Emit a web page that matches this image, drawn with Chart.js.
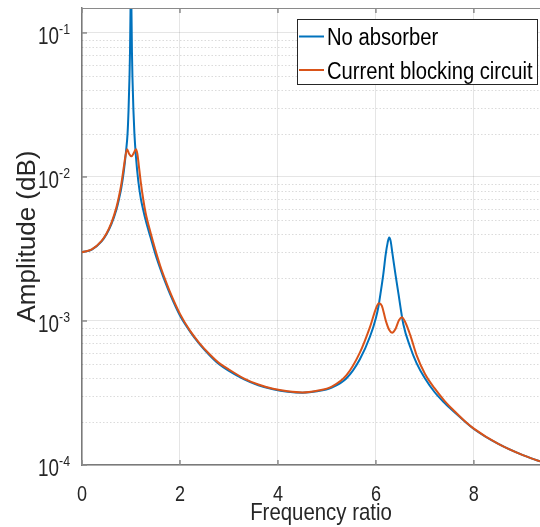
<!DOCTYPE html>
<html>
<head>
<meta charset="utf-8">
<style>
    body {
        margin: 0;
        background: #fff;
    }
</style>
</head>
<body>
<canvas id="chart" width="540" height="527"></canvas>

<script src="https://cdn.jsdelivr.net/npm/chart.js@4.4.0/dist/chart.umd.min.js"></script>
<script>
    // values
    const noAbsFreq = [0, 0.2, 0.4, 0.5, 0.6, 0.7, 0.75, 0.8, 0.85, 0.9, 0.93, 0.95, 0.97, 0.98, 0.99, 1.0,
        1.01, 1.02, 1.03, 1.05, 1.07, 1.1, 1.15, 1.2, 1.25, 1.3, 1.4, 1.5, 1.6, 1.7, 1.8, 2.0, 2.2, 2.4, 2.6,
        2.8, 3.0, 3.3, 3.6, 3.9, 4.2, 4.5, 4.8, 5.1, 5.4, 5.67, 5.88, 6.0, 6.05, 6.1, 6.15, 6.2, 6.24, 6.27,
        6.3, 6.34, 6.4, 6.46, 6.56, 6.7, 6.83, 7.0, 7.2, 7.4, 7.6, 7.8, 8.0, 8.5, 9.0, 9.35];
    const noAbsAmp = [0.0030, 0.00313, 0.00357, 0.0040, 0.0047, 0.0059, 0.0069, 0.0083, 0.0107, 0.0152, 0.020,
        0.029, 0.050, 0.074, 0.14, 0.5, 0.14, 0.073, 0.049, 0.029, 0.020, 0.014, 0.0093, 0.0071, 0.0059, 0.0050,
        0.0038, 0.0029, 0.0023, 0.00186, 0.00153, 0.00109, 0.00085, 0.00069, 0.00058, 0.00050, 0.00045, 0.000395,
        0.000358, 0.000336, 0.000323, 0.000318, 0.000325, 0.000345, 0.0004, 0.00054, 0.00078, 0.00105, 0.00125,
        0.0016, 0.0021, 0.0029, 0.0035, 0.0038, 0.0036, 0.0029, 0.0021, 0.00155, 0.00095, 0.00066, 0.00051,
        0.0004, 0.00032, 0.00027, 0.000233, 0.000203, 0.000178, 0.00014, 0.000117, 0.000106];

    const cbcFreq = [0, 0.2, 0.4, 0.5, 0.6, 0.7, 0.75, 0.8, 0.85, 0.88, 0.92, 0.96, 1.01, 1.06, 1.10, 1.13,
        1.16, 1.2, 1.25, 1.3, 1.4, 1.5, 1.6, 1.7, 1.8, 2.0, 2.2, 2.4, 2.6, 2.8, 3.0, 3.3, 3.6, 3.9, 4.2, 4.5,
        4.8, 5.1, 5.4, 5.67, 5.88, 6.0, 6.06, 6.12, 6.2, 6.27, 6.33, 6.4, 6.47, 6.53, 6.6, 6.7, 6.83, 7.0, 7.2,
        7.4, 7.6, 7.8, 8.0, 8.5, 9.0, 9.35];
    const cbcAmp = [0.0030, 0.00314, 0.0036, 0.00405, 0.0048, 0.0061, 0.0072, 0.0088, 0.0115, 0.0135, 0.0156,
        0.0145, 0.0139, 0.0147, 0.0156, 0.0145, 0.0120, 0.0092, 0.0070, 0.0056, 0.0041, 0.0031, 0.0024, 0.00193,
        0.00158, 0.00112, 0.00086, 0.0007, 0.00059, 0.00051, 0.00046, 0.0004, 0.000362, 0.000338, 0.000325,
        0.000319, 0.000328, 0.00035, 0.00042, 0.0006, 0.00091, 0.00122, 0.00133, 0.00128, 0.00101, 0.00087,
        0.00083, 0.00088, 0.00101, 0.00106, 0.00098, 0.0008, 0.00058, 0.00043, 0.00034, 0.000279, 0.000237,
        0.000204, 0.000179, 0.00014, 0.000117, 0.000106];

    const seriesLabels = ['No absorber', 'Current blocking circuit'];
    const seriesColors = ['#0072BD', '#D95319'];

    const xTicks = [0, 2, 4, 6, 8];
    const yDecades = [1e-4, 1e-3, 1e-2, 1e-1];
    const xMax = 9.35;
    const yMin = 1e-4;
    const yMax = 0.149;

    const FONT = '"Liberation Sans", Arial, sans-serif';
    const TEXT = '#262626';

    const toPoints = (xs, ys) => xs.map((x, i) => ({x: x, y: ys[i]}));

    // 2..9 inside every decade, for the dotted minor grid
    const minorValues = [];
    yDecades.forEach(d => {
        for (let k = 2; k <= 9; k++) {
            if (d * k <= yMax) minorValues.push(d * k);
        }
    });

    // the reference text is squeezed sideways, so draw it narrowed
    function narrowText(ctx, text, x, y, size, sx, align) {
        ctx.save();
        ctx.font = size + 'px ' + FONT;
        ctx.translate(x, y);
        ctx.scale(sx, 1);
        ctx.textAlign = align;
        ctx.textBaseline = 'alphabetic';
        ctx.fillText(text, 0, 0);
        ctx.restore();
    }

    function narrowWidth(ctx, text, size, sx) {
        ctx.save();
        ctx.font = size + 'px ' + FONT;
        const w = ctx.measureText(text).width * sx;
        ctx.restore();
        return w;
    }

    const matlabAxes = {
        id: 'matlabAxes',
        beforeDatasetsDraw(chart) {
            const {ctx, chartArea: a, scales: {y}} = chart;
            ctx.save();
            ctx.strokeStyle = 'rgba(0,0,0,0.14)';
            ctx.lineWidth = 1;
            ctx.setLineDash([1.5, 2]);
            minorValues.forEach(v => {
                const py = Math.round(y.getPixelForValue(v)) + 0.5;
                ctx.beginPath();
                ctx.moveTo(a.left, py);
                ctx.lineTo(a.right, py);
                ctx.stroke();
            });
            ctx.restore();
        },
        afterDatasetsDraw(chart) {
            const {ctx, chartArea: a, scales: {x, y}} = chart;
            ctx.save();

            // top border + small inward ticks
            ctx.strokeStyle = '#8a8a8a';
            ctx.lineWidth = 1;
            ctx.beginPath();
            ctx.moveTo(a.left, a.top + 0.5);
            ctx.lineTo(a.right, a.top + 0.5);
            ctx.stroke();
            ctx.lineWidth = 1.5;
            xTicks.forEach(t => {
                const px = x.getPixelForValue(t);
                ctx.beginPath();
                ctx.moveTo(px, a.bottom);
                ctx.lineTo(px, a.bottom - 5);
                ctx.moveTo(px, a.top);
                ctx.lineTo(px, a.top + 5);
                ctx.stroke();
            });
            yDecades.forEach(v => {
                const py = y.getPixelForValue(v);
                ctx.beginPath();
                ctx.moveTo(a.left, py);
                ctx.lineTo(a.left + 5, py);
                ctx.stroke();
            });

            ctx.fillStyle = TEXT;

            // x tick labels and title
            xTicks.forEach(t => {
                narrowText(ctx, String(t), x.getPixelForValue(t), 501, 22, 0.82, 'center');
            });
            narrowText(ctx, 'Frequency ratio', 321, 520, 24, 0.85, 'center');

            // y tick labels as 10 with a raised exponent
            yDecades.forEach(v => {
                const py = y.getPixelForValue(v);
                const exp = String(Math.round(Math.log10(v)));
                const right = 70;
                const we = narrowWidth(ctx, exp, 15, 0.82);
                narrowText(ctx, '10', right - we, py + 11, 23, 0.82, 'right');
                narrowText(ctx, exp, right - we, py + 1, 15, 0.82, 'left');
            });

            // legend box
            const box = {left: 297, top: 19, right: 538, bottom: 85};
            ctx.fillStyle = '#fff';
            ctx.fillRect(box.left, box.top, box.right - box.left, box.bottom - box.top);
            ctx.strokeStyle = '#262626';
            ctx.lineWidth = 1;
            ctx.strokeRect(box.left + 0.5, box.top + 0.5, box.right - box.left - 1, box.bottom - box.top - 1);
            const rows = [36.5, 70];
            chart.data.datasets.forEach((ds, i) => {
                ctx.strokeStyle = ds.borderColor;
                ctx.lineWidth = 2;
                ctx.beginPath();
                ctx.moveTo(299, rows[i]);
                ctx.lineTo(324, rows[i]);
                ctx.stroke();
                ctx.fillStyle = '#000';
                narrowText(ctx, ds.label, 327, rows[i] + 8.5, 23.5, 0.86, 'left');
            });
            ctx.restore();
        }
    };

    const ctx = document.getElementById('chart').getContext('2d');
    const chart = new Chart(ctx, {
        type: 'line',
        data: {
            datasets: [{
                label: seriesLabels[0],
                data: toPoints(noAbsFreq, noAbsAmp),
                borderColor: seriesColors[0],
                order: 2
            }, {
                label: seriesLabels[1],
                data: toPoints(cbcFreq, cbcAmp),
                borderColor: seriesColors[1],
                order: 1
            }]
        },
        options: {
            responsive: false,
            animation: false,
            devicePixelRatio: 1,
            layout: {padding: {top: 8, right: 0, left: 0, bottom: 0}},
            elements: {
                point: {radius: 0},
                line: {borderWidth: 2, cubicInterpolationMode: 'monotone', fill: false}
            },
            plugins: {
                legend: {display: false},
                tooltip: {enabled: false}
            },
            scales: {
                x: {
                    type: 'linear',
                    min: 0,
                    max: xMax,
                    afterBuildTicks: s => { s.ticks = xTicks.map(v => ({value: v})); },
                    afterFit: s => { s.height = 62; },
                    grid: {color: 'rgba(0,0,0,0.1)', drawTicks: false},
                    border: {color: '#7a7a7a', width: 1.5},
                    ticks: {display: false}
                },
                y: {
                    type: 'logarithmic',
                    min: yMin,
                    max: yMax,
                    afterBuildTicks: s => { s.ticks = yDecades.map(v => ({value: v})); },
                    afterFit: s => { s.width = 82; },
                    grid: {color: 'rgba(0,0,0,0.1)', drawTicks: false},
                    border: {color: '#7a7a7a', width: 1.5},
                    ticks: {display: false},
                    title: {
                        display: true,
                        text: 'Amplitude (dB)',
                        color: TEXT,
                        font: {family: FONT, size: 26, lineHeight: 1},
                        padding: {top: 15, bottom: 0}
                    }
                }
            }
        },
        plugins: [matlabAxes]
    });
</script>
</body>
</html>
